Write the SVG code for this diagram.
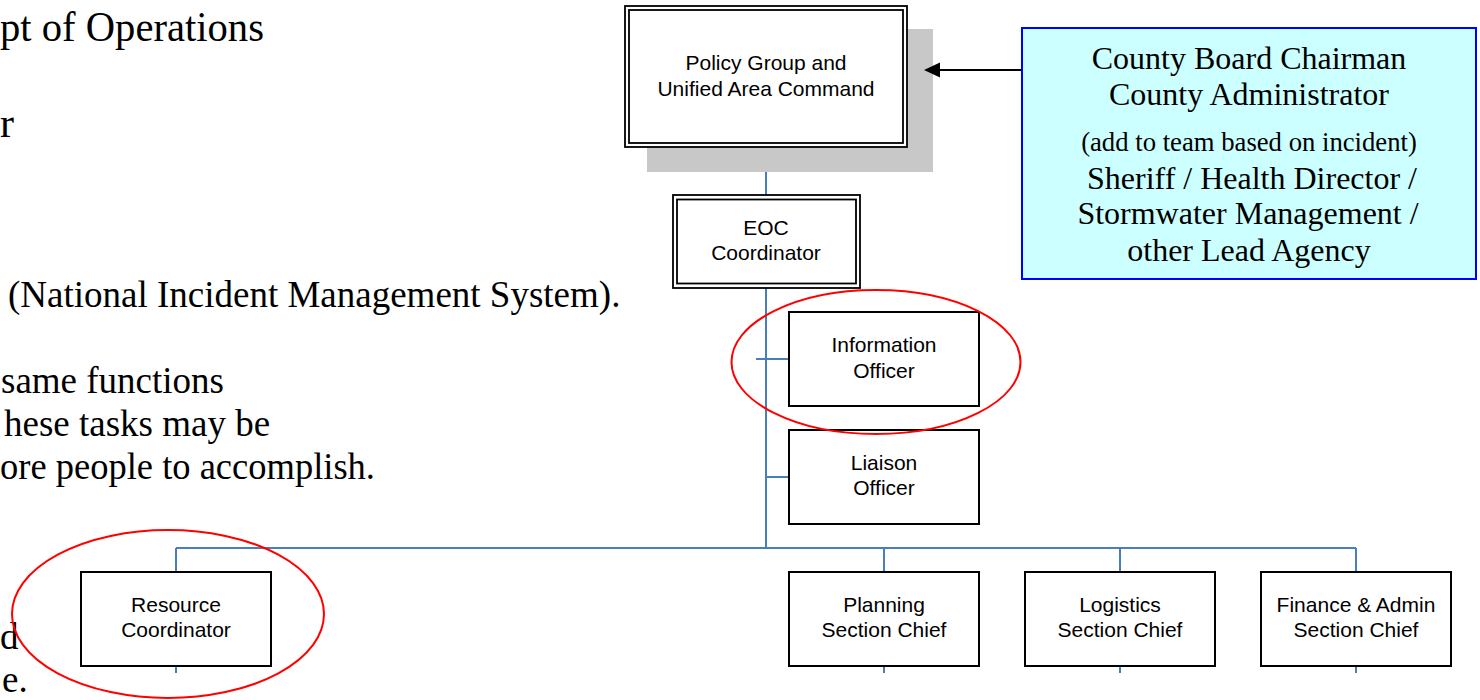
<svg xmlns="http://www.w3.org/2000/svg" width="1480" height="700" viewBox="0 0 1480 700">
  <style>
    .bg { fill: #ffffff; }
    .serif { font-family: "Liberation Serif", "Times New Roman", serif; fill: #000; }
    .body { font-size: 37px; }
    .head { font-size: 42px; }
    .lbl { font-family: "Liberation Sans", Arial, sans-serif; font-size: 21px; fill: #000; text-anchor: middle; }
    .box { fill: #ffffff; stroke: #000; stroke-width: 2; }
    .dbl { fill: none; stroke: #000; stroke-width: 1.8; }
    .conn { stroke: #4a7ebb; stroke-width: 2; fill: none; }
    .ring { fill: none; stroke: #ff0000; stroke-width: 2; }
    .cty { font-family: "Liberation Serif", "Times New Roman", serif; font-size: 32px; fill: #000; text-anchor: middle; }
    .cty-s { font-size: 26.7px; }
  </style>

  <rect class="bg" x="0" y="0" width="1480" height="700"/>

  <!-- Background document text (as visible at the left edge) -->
  <g id="page-text" class="serif">
    <text class="head" x="0" y="41" textLength="264" lengthAdjust="spacingAndGlyphs">pt of Operations</text>
    <text class="head" x="0" y="137">r</text>
    <text class="body" x="8" y="307">(National Incident Management System).</text>
    <text class="body" x="1" y="393">same functions</text>
    <text class="body" x="4" y="436">hese tasks may be</text>
    <text class="body" x="0" y="479" textLength="375" lengthAdjust="spacingAndGlyphs">ore people to accomplish.</text>
    <text class="body" x="0" y="649">d</text>
    <text class="body" x="2" y="692">e.</text>
  </g>

  <!-- Connectors -->
  <g id="connectors">
    <line class="conn" x1="766" y1="147" x2="766" y2="195"/>
    <line class="conn" x1="766" y1="288" x2="766" y2="548"/>
    <line class="conn" x1="756" y1="359" x2="789" y2="359"/>
    <line class="conn" x1="766" y1="477" x2="789" y2="477"/>
    <line class="conn" x1="176" y1="548" x2="1356" y2="548"/>
    <line class="conn" x1="176" y1="548" x2="176" y2="572"/>
    <line class="conn" x1="884" y1="548" x2="884" y2="572"/>
    <line class="conn" x1="1120" y1="548" x2="1120" y2="572"/>
    <line class="conn" x1="1356" y1="548" x2="1356" y2="572"/>
    <line class="conn" x1="176" y1="666" x2="176" y2="673"/>
    <line class="conn" x1="884" y1="666" x2="884" y2="673"/>
    <line class="conn" x1="1120" y1="666" x2="1120" y2="673"/>
    <line class="conn" x1="1356" y1="666" x2="1356" y2="673"/>
  </g>

  <!-- Policy Group -->
  <g id="policy-group">
    <rect x="647" y="29" width="286" height="143" fill="#c8c8c8"/>
    <rect x="625" y="6" width="282" height="141" fill="#ffffff" stroke="#000" stroke-width="1.8"/>
    <rect class="dbl" x="629" y="10" width="274" height="133"/>
    <text class="lbl" x="766" y="70">Policy Group and</text>
    <text class="lbl" x="766" y="96">Unified Area Command</text>
  </g>

  <!-- Arrow from County Board box to Policy Group -->
  <g id="arrow-county-to-policy">
    <line x1="1022" y1="70" x2="938" y2="70" stroke="#000" stroke-width="2"/>
    <polygon points="924,70 940,62.5 940,77.5" fill="#000"/>
  </g>

  <!-- County Board box -->
  <g id="county-board">
    <rect x="1022" y="28" width="454" height="251" fill="#ccffff" stroke="#0000ff" stroke-width="2"/>
    <text class="cty" x="1249" y="69">County Board Chairman</text>
    <text class="cty" x="1249" y="105">County Administrator</text>
    <text class="cty cty-s" x="1249" y="151">(add to team based on incident)</text>
    <text class="cty" x="1252" y="189">Sheriff / Health Director /</text>
    <text class="cty" x="1248" y="224">Stormwater Management /</text>
    <text class="cty" x="1249" y="261">other Lead Agency</text>
  </g>

  <!-- EOC Coordinator -->
  <g id="eoc-coordinator">
    <rect x="673" y="195" width="187" height="93" fill="#ffffff" stroke="#000" stroke-width="1.8"/>
    <rect class="dbl" x="677" y="199.5" width="179" height="84"/>
    <text class="lbl" x="766" y="235">EOC</text>
    <text class="lbl" x="766" y="260">Coordinator</text>
  </g>

  <!-- Information Officer -->
  <g id="information-officer">
    <rect class="box" x="789" y="312" width="190" height="94"/>
    <text class="lbl" x="884" y="352">Information</text>
    <text class="lbl" x="884" y="378">Officer</text>
  </g>

  <!-- Liaison Officer -->
  <g id="liaison-officer">
    <rect class="box" x="789" y="430" width="190" height="94"/>
    <text class="lbl" x="884" y="470">Liaison</text>
    <text class="lbl" x="884" y="495">Officer</text>
  </g>

  <!-- Resource Coordinator -->
  <g id="resource-coordinator">
    <rect class="box" x="81" y="572" width="190" height="94"/>
    <text class="lbl" x="176" y="612">Resource</text>
    <text class="lbl" x="176" y="637">Coordinator</text>
  </g>

  <!-- Planning -->
  <g id="planning-section-chief">
    <rect class="box" x="789" y="572" width="190" height="94"/>
    <text class="lbl" x="884" y="612">Planning</text>
    <text class="lbl" x="884" y="637">Section Chief</text>
  </g>

  <!-- Logistics -->
  <g id="logistics-section-chief">
    <rect class="box" x="1025" y="572" width="190" height="94"/>
    <text class="lbl" x="1120" y="612">Logistics</text>
    <text class="lbl" x="1120" y="637">Section Chief</text>
  </g>

  <!-- Finance & Admin -->
  <g id="finance-admin-section-chief">
    <rect class="box" x="1261" y="572" width="190" height="94"/>
    <text class="lbl" x="1356" y="612">Finance &amp; Admin</text>
    <text class="lbl" x="1356" y="637">Section Chief</text>
  </g>

  <!-- Red highlight ellipses -->
  <g id="highlights">
    <ellipse class="ring" cx="876" cy="362" rx="144.5" ry="72"/>
    <ellipse class="ring" cx="168" cy="614" rx="156" ry="84"/>
  </g>
</svg>
